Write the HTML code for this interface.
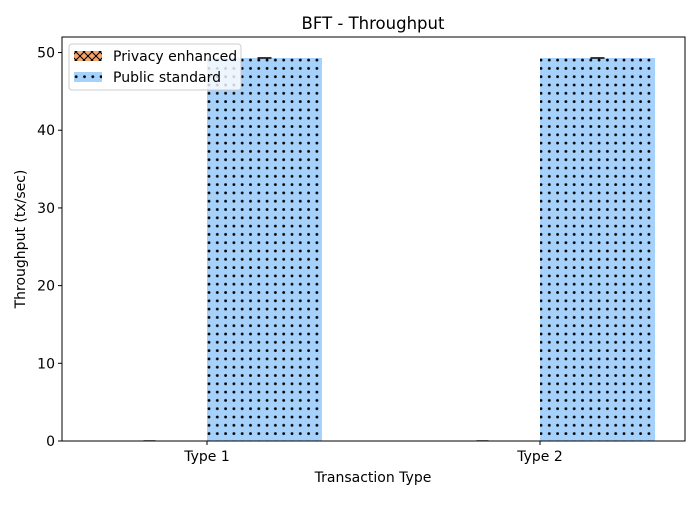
<!DOCTYPE html>
<html><head><meta charset="utf-8"><style>
body{margin:0;background:#fff;font-family:"Liberation Sans","DejaVu Sans",sans-serif}
text{font-family:"DejaVu Sans","Liberation Sans",sans-serif}
</style></head><body>
<svg id="chart" width="700" height="500">
<defs>
<pattern id="dots" x="207" y="0" width="8.3" height="8.3" patternUnits="userSpaceOnUse"><rect width="8.3" height="8.3" fill="#a6d1fb"/><circle cx="2" cy="2" r="1.4" fill="#000"/></pattern>
<pattern id="cross" width="8" height="8" patternUnits="userSpaceOnUse"><rect width="8" height="8" fill="#f5a46a"/><path d="M0 0L8 8M8 0L0 8" stroke="#000" stroke-width="1"/></pattern>
</defs>
<rect x="0" y="0" width="700" height="500" fill="#fff"/>
<text x="373" y="29" text-anchor="middle" font-size="16.5">BFT - Throughput</text>
<g id="plot"></g>
<rect x="62" y="37" width="623" height="404" fill="none" stroke="#000" stroke-width="1"/>
<text x="373" y="482" text-anchor="middle" font-size="14">Transaction Type</text>
<text transform="translate(25,239) rotate(-90)" text-anchor="middle" font-size="14">Throughput (tx/sec)</text>
<g>
<rect x="69" y="44" width="172" height="46" rx="3" fill="#fff" fill-opacity="0.8" stroke="#ccc"/>
<rect x="74" y="51" width="28" height="10" fill="url(#cross)"/>
<text x="113" y="61" font-size="14">Privacy enhanced</text>
<rect x="74" y="72" width="28" height="10" fill="url(#dots)"/>
<text x="113" y="82" font-size="14">Public standard</text>
</g>
</svg>
<script>
const categories=["Type 1","Type 2"];
const privacyValues=[0,0];
const publicValues=[49.3,49.3];
const yTicks=[0,10,20,30,40,50];
const NS="http://www.w3.org/2000/svg";
const g=document.getElementById('plot');
const x0=62,x1=685,yTop=37,yBot=441;
const yMax=52;
function ys(v){return yBot-(v/yMax)*(yBot-yTop);}
function xs(i){return 207+i*333;}
const bw=115;
function mk(t,a){const e=document.createElementNS(NS,t);for(const k in a)e.setAttribute(k,a[k]);g.appendChild(e);return e;}
yTicks.forEach(v=>{
 const y=ys(v);
 const l=mk('line',{x1:x0-4,x2:x0,y1:y,y2:y,stroke:'#000'});
 
 
 const t=mk('text',{x:x0-7,y:y+5,'text-anchor':'end','font-size':'14'});
 t.textContent=v;
 
 
});
categories.forEach((c,i)=>{
 const x=xs(i);
 const l=mk('line',{x1:x,x2:x,y1:yBot,y2:yBot+4,stroke:'#000'});
 
 
 const t=mk('text',{x:x,y:yBot+20,'text-anchor':'middle','font-size':'14'});
 t.textContent=c;
 
 
 const pv=privacyValues[i];
 const b1=mk('rect',{x:x-bw,y:ys(pv),width:bw,height:yBot-ys(pv),fill:'url(#cross)'});
 
 
 const e1=mk('line',{x1:x-bw/2-6,x2:x-bw/2+6,y1:ys(pv)-0.5,y2:ys(pv)-0.5,stroke:'#888'});
 
 
 const v=publicValues[i];
 const b2=mk('rect',{x:x,y:ys(v),width:bw,height:yBot-ys(v),fill:'url(#dots)'});
 
 
 const e2=mk('line',{x1:x+bw/2-7,x2:x+bw/2+7,y1:ys(v),y2:ys(v),stroke:'#000','stroke-width':'1.5'});
 
 
});
</script>
</body></html>
